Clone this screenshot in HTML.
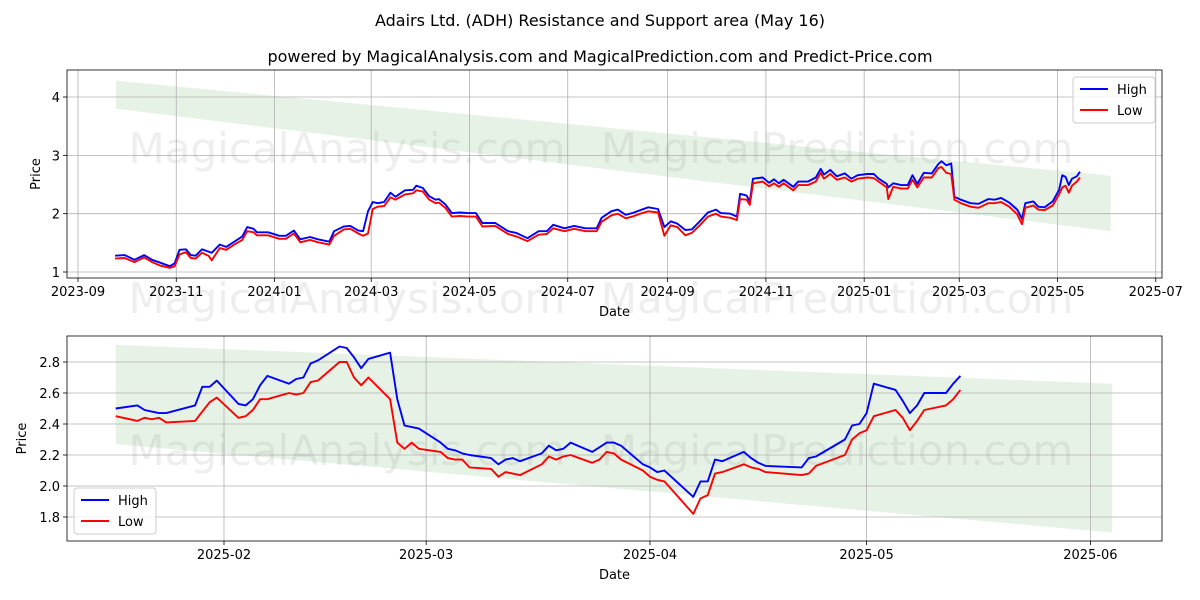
<!DOCTYPE html>
<html><head><meta charset="utf-8"><style>
body{margin:0;background:#fff;}
svg{display:block;font-family:"DejaVu Sans","Liberation Sans",sans-serif;}
</style></head><body>
<svg id="chart" width="1200" height="600" viewBox="0 0 1200 600" xmlns="http://www.w3.org/2000/svg">
<rect width="1200" height="600" fill="#fff"/>
<g id="g0"></g>
<text x="600" y="26" font-size="16" text-anchor="middle">Adairs Ltd. (ADH) Resistance and Support area (May 16)</text>
<text x="600" y="62" font-size="16" text-anchor="middle">powered by MagicalAnalysis.com and MagicalPrediction.com and Predict-Price.com</text>
<g id="g1"></g>
<g id="g2"></g>
</svg>
<script>
// ---- top chart data (days since 2023-09-01) ----
const topDays=[23,29,35,41,46,51,57,60,63,67,70,73,77,81,83,88,92,97,102,105,109,111,118,125,129,134,138,144,149,156,159,165,169,174,177,180,183,186,190,194,197,203,208,210,214,218,222,224,228,232,237,242,247,251,259,267,272,279,286,291,295,302,308,315,322,325,331,335,340,344,349,354,360,364,368,372,377,381,386,391,396,399,405,409,411,415,417,419,425,429,432,435,438,444,447,453,458,461,463,467,471,476,480,484,490,494,497,502,503,506,511,515,518,521,525,530,534,536,539,542,544,548,554,559,565,569,573,578,583,586,588,593,596,600,605,609,611,613,615,617,620,622];
const topHigh=[1.28,1.29,1.21,1.29,1.21,1.16,1.10,1.15,1.38,1.39,1.29,1.28,1.39,1.35,1.33,1.47,1.43,1.52,1.61,1.77,1.74,1.68,1.68,1.62,1.62,1.71,1.56,1.60,1.56,1.52,1.70,1.78,1.79,1.71,1.70,2.04,2.20,2.18,2.20,2.36,2.29,2.40,2.41,2.48,2.44,2.30,2.24,2.25,2.16,2.01,2.02,2.01,2.01,1.84,1.84,1.70,1.67,1.58,1.70,1.70,1.81,1.75,1.79,1.75,1.75,1.93,2.04,2.07,1.98,2.01,2.06,2.11,2.08,1.77,1.87,1.83,1.72,1.73,1.87,2.02,2.07,2.01,2.00,1.95,2.34,2.31,2.21,2.60,2.62,2.53,2.59,2.52,2.58,2.46,2.55,2.55,2.62,2.77,2.67,2.75,2.64,2.69,2.60,2.66,2.68,2.68,2.60,2.51,2.45,2.52,2.49,2.49,2.66,2.51,2.70,2.69,2.85,2.90,2.83,2.86,2.29,2.24,2.18,2.17,2.25,2.24,2.27,2.19,2.07,1.91,2.18,2.21,2.12,2.11,2.21,2.41,2.66,2.63,2.49,2.60,2.64,2.72];
const topLow=[1.23,1.24,1.17,1.25,1.17,1.11,1.07,1.10,1.30,1.34,1.24,1.23,1.33,1.28,1.20,1.41,1.38,1.47,1.55,1.70,1.68,1.63,1.63,1.57,1.57,1.66,1.51,1.55,1.51,1.47,1.62,1.73,1.74,1.66,1.62,1.66,2.08,2.12,2.13,2.28,2.24,2.33,2.35,2.40,2.38,2.24,2.18,2.19,2.10,1.95,1.96,1.95,1.95,1.78,1.79,1.65,1.61,1.53,1.64,1.65,1.75,1.70,1.74,1.70,1.70,1.86,1.97,2.00,1.92,1.95,2.00,2.04,2.02,1.62,1.80,1.77,1.63,1.67,1.80,1.95,2.00,1.95,1.93,1.89,2.25,2.24,2.15,2.52,2.55,2.47,2.52,2.46,2.52,2.40,2.49,2.49,2.55,2.70,2.60,2.68,2.58,2.62,2.55,2.60,2.62,2.61,2.55,2.45,2.25,2.46,2.43,2.43,2.58,2.45,2.62,2.62,2.78,2.80,2.70,2.68,2.24,2.18,2.12,2.10,2.18,2.18,2.20,2.12,1.99,1.82,2.10,2.14,2.07,2.06,2.14,2.33,2.45,2.48,2.36,2.48,2.55,2.62];
const topBandDays=[23.6,641];
const topBandHi=[4.28,2.65];
const topBandLo=[3.80,1.70];
const topXTickDays=[0,61,122,182,243,304,366,427,488,547,608,669];
const topXTickLabels=["2023-09","2023-11","2024-01","2024-03","2024-05","2024-07","2024-09","2024-11","2025-01","2025-03","2025-05","2025-07"];
const topYTicks=[1,2,3,4];
// ---- bottom chart data (days since 2025-01-01) ----
const botDays=[16,19,20,21,22,23,27,28,29,30,33,34,35,36,37,40,41,42,43,44,47,48,49,50,51,54,55,56,57,58,61,62,63,64,65,68,69,70,71,72,75,76,77,78,79,82,83,84,85,86,89,90,91,92,96,97,98,99,100,103,104,105,106,111,112,113,117,118,119,120,121,124,125,126,127,128,131,132,133];
const botHigh=[2.50,2.52,2.49,2.48,2.47,2.47,2.52,2.64,2.64,2.68,2.53,2.52,2.56,2.65,2.71,2.66,2.69,2.70,2.79,2.81,2.90,2.89,2.83,2.76,2.82,2.86,2.56,2.39,2.38,2.37,2.28,2.24,2.23,2.21,2.20,2.18,2.14,2.17,2.18,2.16,2.21,2.26,2.23,2.24,2.28,2.22,2.25,2.28,2.28,2.26,2.14,2.12,2.09,2.10,1.93,2.03,2.03,2.17,2.16,2.22,2.18,2.15,2.13,2.12,2.18,2.19,2.30,2.39,2.40,2.47,2.66,2.62,2.55,2.47,2.52,2.60,2.60,2.66,2.71];
const botLow=[2.45,2.42,2.44,2.43,2.44,2.41,2.42,2.48,2.54,2.57,2.44,2.45,2.49,2.56,2.56,2.60,2.59,2.60,2.67,2.68,2.80,2.80,2.70,2.65,2.70,2.56,2.28,2.24,2.28,2.24,2.22,2.18,2.17,2.17,2.12,2.11,2.06,2.09,2.08,2.07,2.14,2.19,2.17,2.19,2.20,2.15,2.17,2.22,2.21,2.17,2.10,2.06,2.04,2.03,1.82,1.92,1.94,2.08,2.09,2.14,2.12,2.11,2.09,2.07,2.08,2.13,2.20,2.30,2.34,2.36,2.45,2.49,2.44,2.36,2.42,2.49,2.52,2.56,2.62];
const botBandDays=[16,154];
const botBandHi=[2.91,2.66];
const botBandLo=[2.27,1.70];
const botXTickDays=[31,59,90,120,151];
const botXTickLabels=["2025-02","2025-03","2025-04","2025-05","2025-06"];
const botYTicks=[1.8,2.0,2.2,2.4,2.6,2.8];
const botYTickLabels=["1.8","2.0","2.2","2.4","2.6","2.8"];

const NS="http://www.w3.org/2000/svg";
function mk(parent,tag,attrs,text){const e=document.createElementNS(NS,tag);for(const k in attrs)e.setAttribute(k,attrs[k]);if(text!==undefined)e.textContent=text;parent.appendChild(e);return e;}

function watermarks(g,y){
  [[347,y],[837,y]].forEach((p,i)=>{
    const w=mk(g,"text",{x:p[0],y:p[1],"font-size":42,"text-anchor":"middle",fill:"rgba(150,150,150,0.16)"},i?"MagicalPrediction.com":"MagicalAnalysis.com");
    
    
  });
}
watermarks(document.getElementById("g0"),313);

function panel(g,cfg){
  const {L,R,T,B,xs,ys}=cfg;
  const bp=[[cfg.bandDays[0],cfg.bandHi[0]],[cfg.bandDays[1],cfg.bandHi[1]],[cfg.bandDays[1],cfg.bandLo[1]],[cfg.bandDays[0],cfg.bandLo[0]]].map(p=>xs(p[0]).toFixed(1)+","+ys(p[1]).toFixed(1)).join(" ");
  const band=mk(g,"polygon",{points:bp,fill:"rgba(0,128,0,0.1)"});
  
  
  cfg.xt.forEach((d,i)=>{
    const x=xs(d);
    const gl=mk(g,"line",{x1:x,x2:x,y1:T,y2:B,stroke:"#b0b0b0","stroke-width":0.8});
    
    
    mk(g,"line",{x1:x,x2:x,y1:B,y2:B+4,stroke:"#000","stroke-width":0.8});
    const t=mk(g,"text",{x:x,y:B+18,"font-size":13,"text-anchor":"middle"},cfg.xl[i]);
    
    
  });
  cfg.yt.forEach((v,i)=>{
    const y=ys(v);
    const gl=mk(g,"line",{x1:L,x2:R,y1:y,y2:y,stroke:"#b0b0b0","stroke-width":0.8});
    
    
    mk(g,"line",{x1:L-4,x2:L,y1:y,y2:y,stroke:"#000","stroke-width":0.8});
    const t=mk(g,"text",{x:L-7,y:y+5,"font-size":13,"text-anchor":"end"},cfg.yl[i]);
    
    
  });
  watermarks(g,cfg.wmY);
  const clipId="clip"+T;
  const cp=mk(g,"clipPath",{id:clipId});mk(cp,"rect",{x:L,y:T,width:R-L,height:B-T});
  const mkLine=(vals,color,name)=>{
    const d=cfg.days.map((dd,i)=>(i?"L":"M")+xs(dd).toFixed(1)+","+ys(vals[i]).toFixed(1)).join("");
    const p=mk(g,"path",{d:d,fill:"none",stroke:color,"stroke-width":1.9,"stroke-linejoin":"round","clip-path":"url(#"+clipId+")"});
    
    
  };
  mkLine(cfg.high,"#0000ff","high-line");
  mkLine(cfg.low,"#ff0000","low-line");
  const fr=mk(g,"rect",{x:L,y:T,width:R-L,height:B-T,fill:"none",stroke:"#000","stroke-width":0.8});
  
  
  const xl=mk(g,"text",{x:(L+R)/2,y:B+38,"font-size":13,"text-anchor":"middle"},"Date");
  
  
  const yl=mk(g,"text",{x:0,y:0,"font-size":13,"text-anchor":"middle",transform:"translate("+cfg.yTitleX+","+(T+B)/2+") rotate(-90)"},"Price");
  
  
  const lg=mk(g,"g",{});
  
  
  const [lx,ly]=cfg.leg;
  mk(lg,"rect",{x:lx,y:ly,width:82,height:46,rx:3,fill:"rgba(255,255,255,0.8)",stroke:"#ccc","stroke-width":1});
  [["High","#0000ff"],["Low","#ff0000"]].forEach((e,i)=>{
    const en=mk(lg,"g",{});
    
    
    const yy=ly+12+i*21;
    mk(en,"line",{x1:lx+7,x2:lx+35,y1:yy,y2:yy,stroke:e[1],"stroke-width":1.9});
    mk(en,"text",{x:lx+44,y:yy+5,"font-size":13},e[0]);
  });
}

panel(document.getElementById("g1"),{L:67,R:1162,T:70,B:278,
  xs:d=>78+d*1.611, ys:v=>272-(v-1)*58.33,
  days:topDays,high:topHigh,low:topLow,
  bandDays:topBandDays,bandHi:topBandHi,bandLo:topBandLo,
  xt:topXTickDays,xl:topXTickLabels,yt:topYTicks,yl:topYTicks.map(String),
  yTitleX:40,wmY:163,leg:[1073,77]});
panel(document.getElementById("g2"),{L:67,R:1162,T:336,B:541,
  xs:d=>224+(d-31)*7.22, ys:v=>362-(v-2.8)*155,
  days:botDays,high:botHigh,low:botLow,
  bandDays:botBandDays,bandHi:botBandHi,bandLo:botBandLo,
  xt:botXTickDays,xl:botXTickLabels,yt:botYTicks,yl:botYTickLabels,
  yTitleX:26,wmY:465,leg:[74,488]});
</script>
</body></html>
